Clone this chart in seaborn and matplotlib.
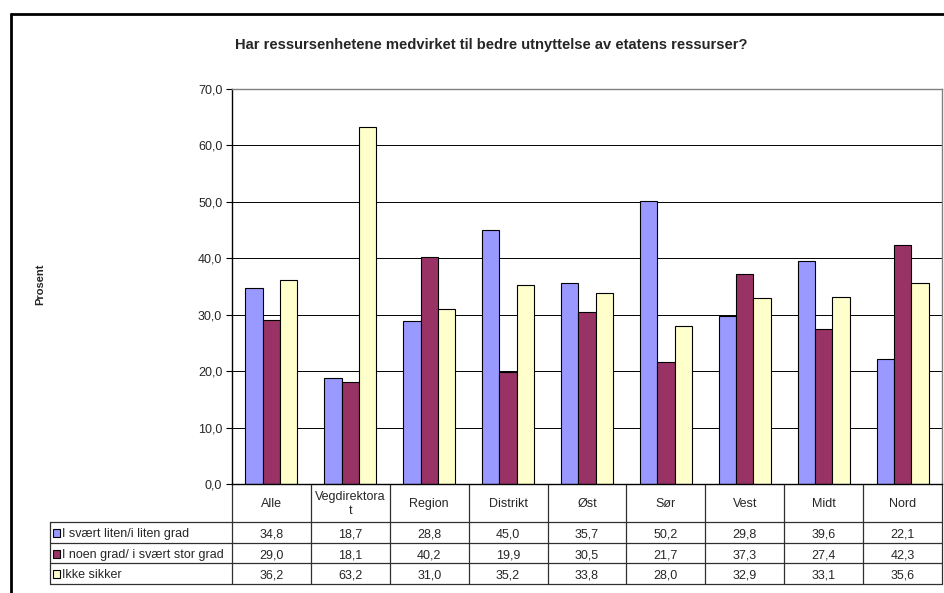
import matplotlib
matplotlib.use("Agg")
import matplotlib.pyplot as plt
import seaborn as sns
import pandas as pd
from matplotlib.transforms import blended_transform_factory
from matplotlib.lines import Line2D
from matplotlib.patches import Rectangle

# --- data -------------------------------------------------------------
categories = ["Alle", "Vegdirektorat", "Region", "Distrikt", "Øst", "Sør", "Vest", "Midt", "Nord"]
header_labels = ["Alle", "Vegdirektora\nt", "Region", "Distrikt", "Øst", "Sør", "Vest", "Midt", "Nord"]
series_names = ["I svært liten/i liten grad", "I noen grad/ i svært stor grad", "Ikke sikker"]
liten = [34.8, 18.7, 28.8, 45.0, 35.7, 50.2, 29.8, 39.6, 22.1]
noen = [29.0, 18.1, 40.2, 19.9, 30.5, 21.7, 37.3, 27.4, 42.3]
ikke_sikker = [36.2, 63.2, 31.0, 35.2, 33.8, 28.0, 32.9, 33.1, 35.6]
yticks = [0, 10, 20, 30, 40, 50, 60, 70]
colors = ["#9999FF", "#993366", "#FFFFCC"]

series_values = [liten, noen, ikke_sikker]
df = pd.DataFrame(
    [(c, s, v) for s, vals in zip(series_names, series_values) for c, v in zip(categories, vals)],
    columns=["Kategori", "Serie", "Prosent"],
)

# --- styling ----------------------------------------------------------
sns.set_theme(style="white")
plt.rcParams["font.family"] = ["Liberation Sans", "DejaVu Sans"]
FS = 9

W, H = 945, 593
L, R, T, B = 232, 942, 89, 484          # plot area in pixels
fig = plt.figure(figsize=(W / 100, H / 100), dpi=100)
fig.patch.set_facecolor("white")
ax = fig.add_axes([L / W, 1 - B / H, (R - L) / W, (B - T) / H])

sns.barplot(
    data=df, x="Kategori", y="Prosent", hue="Serie", order=categories,
    hue_order=series_names, palette=colors, saturation=1, width=0.66,
    edgecolor="black", linewidth=0.8, ax=ax, legend=False,
)

ax.set_ylim(0, 70)
ax.set_xlim(-0.5, len(categories) - 0.5)
ax.set_yticks(yticks)
ax.set_yticklabels([f"{v:.1f}".replace(".", ",") for v in yticks])
ax.set_xticks([])
ax.set_xlabel("")
ax.set_ylabel("")
ax.grid(axis="y", color="black", linewidth=0.7)
ax.set_axisbelow(True)
ax.tick_params(axis="y", direction="out", length=4, width=0.8, color="black",
               labelsize=FS, pad=3, left=True)
for side in ("left", "bottom"):
    ax.spines[side].set_color("black")
    ax.spines[side].set_linewidth(1.0)
for side in ("top", "right"):
    ax.spines[side].set_color("#808080")
    ax.spines[side].set_linewidth(1.0)

# --- data table under the chart --------------------------------------
cat_w = (R - L) / len(categories)
def xd(px):
    return -0.5 + (px - L) / cat_w
def yf(px):
    return 1 - px / H

tr = blended_transform_factory(ax.transData, fig.transFigure)
line_kw = dict(color="#303030", linewidth=0.9, transform=tr, clip_on=False)

header_bottom = 522
row_edges = [522, 543, 563, 584]
legend_left = xd(50)
n = len(categories)

for k in range(n + 1):
    ax.add_line(Line2D([k - 0.5, k - 0.5], [yf(B), yf(row_edges[-1])], **line_kw))
ax.add_line(Line2D([legend_left, legend_left], [yf(header_bottom), yf(row_edges[-1])], **line_kw))
for y in row_edges:
    ax.add_line(Line2D([legend_left, n - 0.5], [yf(y), yf(y)], **line_kw))

for i, lab in enumerate(header_labels):
    ax.text(i, yf((B + header_bottom) / 2 + 1), lab, transform=tr, ha="center", va="center",
            fontsize=FS, linespacing=1.15, clip_on=False)

for r, (name, vals, col) in enumerate(zip(series_names, series_values, colors)):
    yc = (row_edges[r] + row_edges[r + 1]) / 2
    ax.add_patch(Rectangle((xd(52.5), yf(yc + 4.5)), xd(60.5) - xd(52.5), 8 / H, transform=tr,
                           facecolor=col, edgecolor="black", linewidth=0.8, clip_on=False))
    ax.text(xd(62), yf(yc + 0.5), name, transform=tr, ha="left", va="center_baseline",
            fontsize=FS, clip_on=False)
    for i, v in enumerate(vals):
        ax.text(i, yf(yc + 0.5), f"{v:.1f}".replace(".", ","), transform=tr, ha="center",
                va="center_baseline", fontsize=FS, clip_on=False)

# --- titles and chart frame -------------------------------------------
fig.text(491 / W, yf(45), "Har ressursenhetene medvirket til bedre utnyttelse av etatens ressurser?",
         ha="center", va="center", fontsize=10.6, fontweight="bold")
fig.text(40 / W, yf(284), "Prosent", rotation=90, ha="center", va="center",
         fontsize=8, fontweight="bold")

fig.add_artist(Line2D([11 / W, 11 / W], [yf(14), 0], color="black", linewidth=2, transform=fig.transFigure))
fig.add_artist(Line2D([11 / W, 1], [yf(14), yf(14)], color="black", linewidth=2, transform=fig.transFigure))

fig.savefig("out.png", dpi=100, facecolor="white")
